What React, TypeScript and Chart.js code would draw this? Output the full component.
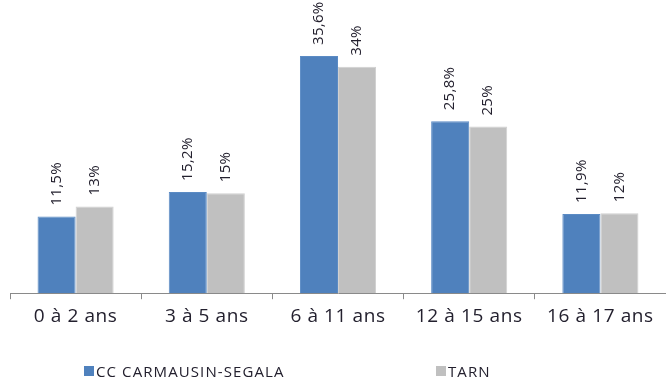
import React, { useEffect, useRef } from "react";
import { Chart, registerables } from "chart.js";

Chart.register(...registerables);

const categories = ["0 à 2 ans", "3 à 5 ans", "6 à 11 ans", "12 à 15 ans", "16 à 17 ans"];
const seriesNames = ["CC CARMAUSIN-SEGALA", "TARN"];
const ccValues = [11.5, 15.2, 35.6, 25.8, 11.9];
const tarnValues = [13, 15, 34, 25, 12];
const ccLabels = ["11,5%", "15,2%", "35,6%", "25,8%", "11,9%"];
const tarnLabels = ["13%", "15%", "34%", "25%", "12%"];

const BLUE = "#4F81BD";
const GRAY = "#C0C0C0";
const TEXT = "#23202e";
const FONT = "'Open Sans', Lato, sans-serif";

const spacingPlugin = {
  id: "spacing",
  beforeLayout(chart: any) {
    chart.ctx.letterSpacing = "0.6px";
  },
  beforeDraw(chart: any) {
    chart.ctx.letterSpacing = "0.6px";
  },
};

const valueLabelPlugin = {
  id: "valueLabels",
  afterDatasetsDraw(chart: any) {
    const ctx = chart.ctx;
    const labelsets = [ccLabels, tarnLabels];
    chart.data.datasets.forEach((ds: any, di: number) => {
      const meta = chart.getDatasetMeta(di);
      meta.data.forEach((el: any, i: number) => {
        ctx.save();
        ctx.translate(el.x, el.y - 11);
        ctx.rotate(-Math.PI / 2);
        ctx.font = `15px ${FONT}`;
        ctx.letterSpacing = "0.3px";
        ctx.fillStyle = TEXT;
        ctx.textAlign = "left";
        ctx.textBaseline = "middle";
        ctx.fillText(labelsets[di][i], 0, 0);
        ctx.restore();
      });
    });
  },
};

export default function App() {
  const ref = useRef<HTMLCanvasElement>(null);
  useEffect(() => {
    const chart = new Chart(ref.current!, {
      type: "bar",
      data: {
        labels: categories,
        datasets: [
          {
            label: seriesNames[0],
            data: ccValues,
            backgroundColor: BLUE,
            borderColor: "#5B8BC4",
            borderWidth: 1,
            categoryPercentage: 0.58,
            barPercentage: 1,
          },
          {
            label: seriesNames[1],
            data: tarnValues,
            backgroundColor: GRAY,
            borderColor: "#D0D0D0",
            borderWidth: 1,
            categoryPercentage: 0.58,
            barPercentage: 1,
          },
        ],
      },
      options: {
        animation: false,
        responsive: false,
        maintainAspectRatio: false,
        layout: { padding: { left: 10, right: 0, top: 0, bottom: 45 } },
        plugins: { legend: { display: false }, tooltip: { enabled: false } },
        scales: {
          x: {
            offset: true,
            grid: {
              offset: true,
              drawOnChartArea: false,
              drawTicks: true,
              tickLength: 6,
              color: "#8a8a8a",
            },
            border: { display: true, color: "#8a8a8a", width: 1 },
            ticks: {
              color: TEXT,
              font: { family: FONT, size: 19 },
              padding: 6,
              maxRotation: 0,
            },
          },
          y: {
            display: false,
            min: 0,
            max: 44,
          },
        },
      },
      plugins: [spacingPlugin, valueLabelPlugin],
    });
    return () => chart.destroy();
  }, []);

  const legendItem = (color: string, text: string, left: number) => (
    <div
      style={{
        position: "absolute",
        left,
        top: 363,
        height: 16,
        display: "flex",
        alignItems: "center",
        fontFamily: FONT,
        fontSize: 15,
        letterSpacing: 1.1,
        color: TEXT,
        whiteSpace: "nowrap",
      }}
    >
      <span style={{ display: "inline-block", width: 10, height: 10, background: color, marginRight: 2 }} />
      <span>{text}</span>
    </div>
  );

  return (
    <div style={{ position: "fixed", left: 0, top: 0, width: 666, height: 379, background: "#fff" }}>
      <canvas ref={ref} width={666} height={379} style={{ position: "absolute", left: 0, top: 0 }} />
      {legendItem(BLUE, seriesNames[0], 84)}
      {legendItem(GRAY, seriesNames[1], 436)}
    </div>
  );
}
